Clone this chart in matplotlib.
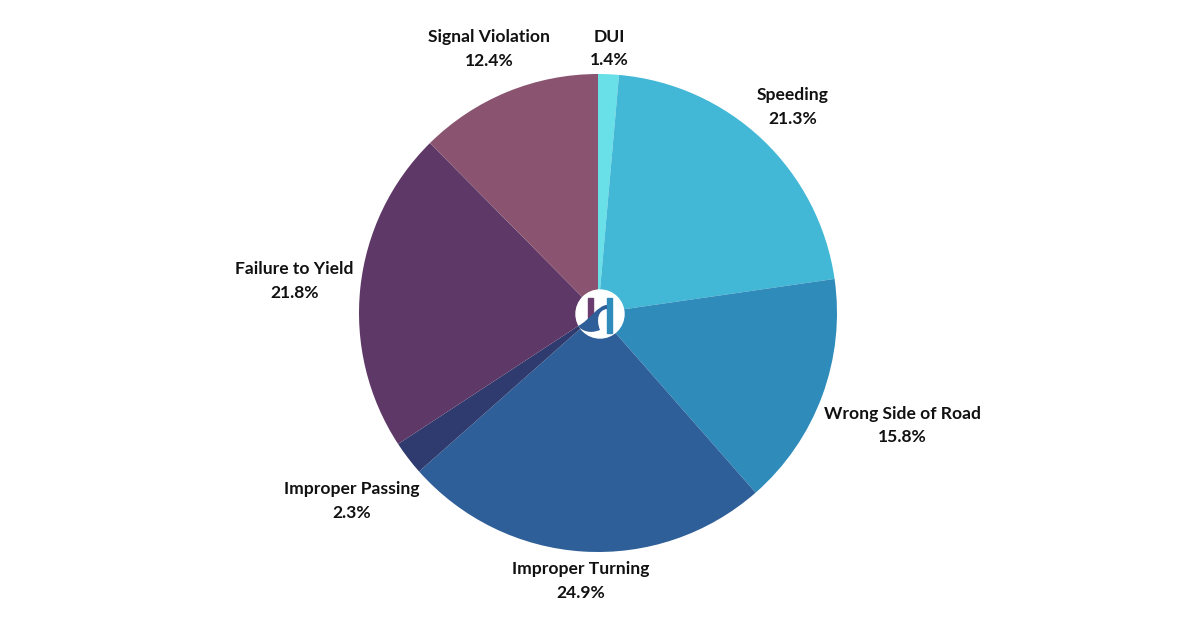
import matplotlib.pyplot as plt
import numpy as np
from matplotlib.patches import Circle, Rectangle, PathPatch
from matplotlib.path import Path

# clockwise from 12 o'clock
labels = ["DUI", "Speeding", "Wrong Side of Road", "Improper Turning",
          "Improper Passing", "Failure to Yield", "Signal Violation"]
shares = [1.4, 21.3, 15.8, 24.9, 2.3, 21.8, 12.4]
colors = ["#69DFE8", "#42B8D6", "#2E8BBA", "#2E5F98",
          "#2F3A6E", "#5E3866", "#8A5470"]

W, H = 1200, 630
cx, cy, R = 598, H - 313, 239

plt.rcParams['font.family'] = ['Lato', 'DejaVu Sans']
fig = plt.figure(figsize=(12, 6.3), dpi=100)
ax = fig.add_axes([0, 0, 1, 1])

wedges, _ = ax.pie(shares, colors=colors, startangle=90, counterclock=False,
                   center=(cx, cy), radius=R, wedgeprops=dict(linewidth=0),
                   frame=True)
ax.set_xlim(0, W)
ax.set_ylim(0, H)
ax.set_aspect('equal')
ax.axis('off')

# labels outside each slice
renderer = fig.canvas.get_renderer()
for w, lab, val in zip(wedges, labels, shares):
    ang = np.deg2rad((w.theta1 + w.theta2) / 2)
    t = ax.text(0, 0, f"{lab}\n{val}%", ha='center', va='center',
                fontsize=12.6, fontweight='bold', color='#111111',
                linespacing=1.6)
    bb = t.get_window_extent(renderer)
    ext = abs(bb.width / 2 * np.cos(ang)) + abs(bb.height / 2 * np.sin(ang))
    d = R + 5 + ext
    t.set_position((cx + d * np.cos(ang), cy + d * np.sin(ang)))

# center logo
lx, ly = 600, H - 314
ax.add_patch(Circle((lx, ly), 24, color='white', zorder=5))
ax.add_patch(Rectangle((588, H - 330), 4.5, 32, color='#6B3D6E', zorder=6))
ax.add_patch(Rectangle((607, H - 333), 5, 35, color='#2E8BBA', zorder=6))
verts = [(578, H - 326), (590, H - 320), (598, H - 305), (607, H - 305),
         (607, H - 305), (607, H - 309), (607, H - 309),
         (598, H - 310), (596, H - 320), (600, H - 330),
         (590, H - 334), (582, H - 331), (578, H - 326)]
codes = [Path.MOVETO, Path.CURVE4, Path.CURVE4, Path.CURVE4,
         Path.LINETO, Path.LINETO, Path.LINETO,
         Path.CURVE4, Path.CURVE4, Path.CURVE4,
         Path.CURVE4, Path.CURVE4, Path.CURVE4]
ax.add_patch(PathPatch(Path(verts, codes), facecolor='#2E5F98',
                       edgecolor='none', zorder=6))

fig.savefig("out.png", dpi=100, facecolor='white')
